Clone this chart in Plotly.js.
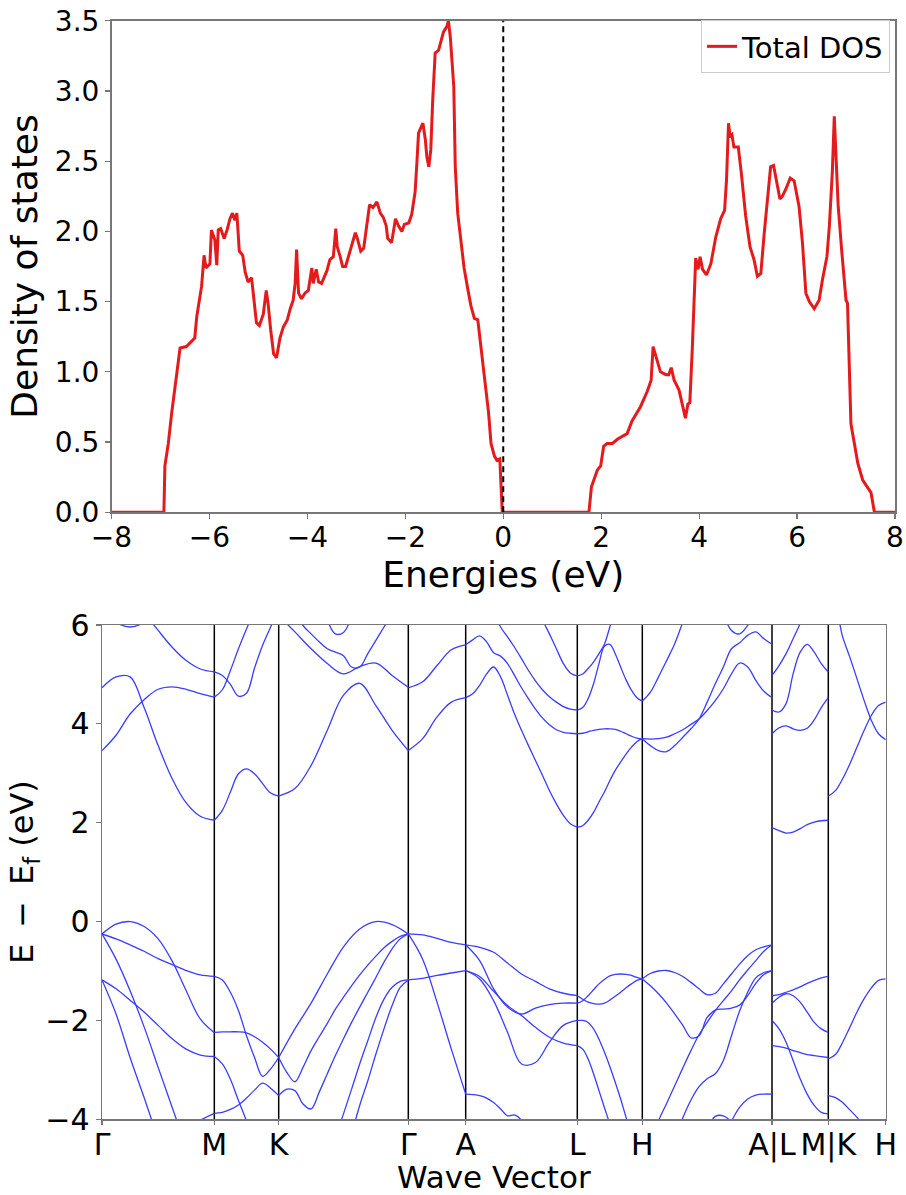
<!DOCTYPE html>
<html>
<head>
<meta charset="utf-8">
<script src="https://cdn.plot.ly/plotly-3.0.1.min.js"></script>
<style>
  html, body { margin: 0; padding: 0; background: #ffffff; }
  #chart { width: 906px; height: 1195px; }
</style>
</head>
<body>
<div id="chart"></div>
<script>
// ---------------- DOS (top panel) ----------------
const dosEnergy = [
  -8, -6.93, -6.91, -6.84, -6.77, -6.67, -6.60, -6.47, -6.36, -6.30,
  -6.26, -6.16, -6.11, -6.07, -5.99, -5.96, -5.89, -5.85, -5.82, -5.77,
  -5.70, -5.64, -5.58, -5.53, -5.48, -5.44, -5.39, -5.32, -5.27, -5.21,
  -5.14, -5.09, -5.04, -4.98, -4.90, -4.84, -4.80, -4.75, -4.69, -4.63,
  -4.56, -4.49, -4.41, -4.35, -4.29, -4.25, -4.22, -4.18, -4.12, -4.05,
  -3.98, -3.91, -3.88, -3.82, -3.77, -3.71, -3.60, -3.54, -3.47, -3.42,
  -3.39, -3.33, -3.28, -3.22, -3.16, -3.09, -3.02, -2.98, -2.91, -2.85,
  -2.79, -2.73, -2.66, -2.58, -2.51, -2.45, -2.39, -2.36, -2.28, -2.24,
  -2.20, -2.14, -2.07, -2.02, -1.93, -1.87, -1.80, -1.76, -1.73, -1.68,
  -1.64, -1.59, -1.56, -1.52, -1.48, -1.44, -1.39, -1.32, -1.27, -1.22,
  -1.15, -1.12, -1.08, -1.01, -0.98, -0.93, -0.86, -0.80, -0.73, -0.66,
  -0.59, -0.52, -0.45, -0.37, -0.30, -0.25, -0.18, -0.13, -0.07, -0.02,
  1.75, 1.80, 1.85, 1.92, 1.99, 2.05, 2.12, 2.23, 2.33, 2.43,
  2.53, 2.63, 2.80, 2.94, 3.02, 3.06, 3.13, 3.21, 3.32, 3.38,
  3.43, 3.49, 3.59, 3.66, 3.72, 3.77, 3.81, 3.86, 3.90, 3.93,
  3.98, 4.02, 4.07, 4.15, 4.24, 4.34, 4.44, 4.52, 4.56, 4.60,
  4.63, 4.67, 4.71, 4.80, 4.86, 4.95, 5.04, 5.12, 5.19, 5.26,
  5.33, 5.39, 5.46, 5.52, 5.59, 5.65, 5.70, 5.77, 5.86, 5.94,
  6.04, 6.11, 6.18, 6.25, 6.35, 6.45, 6.52, 6.61, 6.66, 6.72,
  6.76, 6.79, 6.84, 6.91, 6.96, 7.00, 7.03, 7.07, 7.10, 7.17,
  7.24, 7.34, 7.44, 7.51, 7.58, 8
];
const dosTotal = [
  0, 0, 0.33, 0.49, 0.71, 0.97, 1.17, 1.18, 1.22, 1.24,
  1.39, 1.61, 1.83, 1.74, 1.77, 2.01, 1.94, 1.76, 2.01, 2.02,
  1.95, 2.01, 2.09, 2.13, 2.08, 2.13, 1.86, 1.83, 1.71, 1.64,
  1.67, 1.51, 1.35, 1.33, 1.41, 1.58, 1.48, 1.30, 1.13, 1.10,
  1.24, 1.32, 1.37, 1.45, 1.51, 1.63, 1.87, 1.56, 1.52, 1.56,
  1.58, 1.74, 1.63, 1.73, 1.64, 1.63, 1.72, 1.80, 1.82, 2.02,
  1.89, 1.82, 1.75, 1.75, 1.82, 1.89, 1.99, 1.95, 1.86, 1.88,
  2.04, 2.19, 2.17, 2.21, 2.13, 2.10, 2.04, 1.95, 1.92, 2.01,
  2.09, 2.04, 2.00, 2.05, 2.06, 2.12, 2.28, 2.51, 2.70, 2.74,
  2.77, 2.65, 2.53, 2.46, 2.58, 2.94, 3.27, 3.29, 3.35, 3.42,
  3.46, 3.50, 3.38, 3.03, 2.46, 2.13, 1.92, 1.74, 1.60, 1.47,
  1.38, 1.37, 1.16, 0.92, 0.71, 0.49, 0.40, 0.37, 0.38, 0,
  0, 0.18, 0.23, 0.30, 0.33, 0.47, 0.49, 0.49, 0.52, 0.54,
  0.56, 0.65, 0.75, 0.86, 0.94, 1.18, 1.09, 1.00, 0.98, 0.98,
  1.03, 0.94, 0.87, 0.75, 0.67, 0.77, 0.78, 1.16, 1.51, 1.81,
  1.73, 1.82, 1.73, 1.69, 1.77, 1.96, 2.09, 2.15, 2.37, 2.77,
  2.68, 2.69, 2.60, 2.60, 2.42, 2.11, 1.89, 1.80, 1.68, 1.70,
  1.99, 2.23, 2.46, 2.47, 2.34, 2.23, 2.25, 2.30, 2.38, 2.36,
  2.18, 1.92, 1.56, 1.50, 1.45, 1.51, 1.66, 1.82, 2.04, 2.42,
  2.82, 2.53, 2.18, 1.87, 1.63, 1.51, 1.49, 0.92, 0.63, 0.49,
  0.35, 0.23, 0.18, 0.14, 0, 0
];
const fermiLevel = 0;

// ---------------- Band structure (bottom panel) ----------------
const kTicks  = [0, 0.5789, 0.9108, 1.5789, 1.8747, 2.4500, 2.7851, 3.4536, 3.7438, 4.0397];
const kLabels = ['Γ', 'M', 'K', 'Γ', 'A', 'L', 'H', 'A|L', 'M|K', 'H'];

// Each band piece: energies (eV) sampled evenly along one path segment.
const bandsGM = [
  [3.46, 3.77, 4.20, 4.49, 4.70, 4.75, 4.70, 4.61, 4.54],
  [4.73, 4.95, 4.95, 4.33, 3.56, 2.89, 2.40, 2.13, 2.05],
  [7.1, 6.9, 6.6, 6.25, 5.89, 5.55, 5.28, 5.11, 5.05],
  [6.3, 6.05, 5.96, 6.05, 6.3, null, null, null, null],
  [-0.25, -0.05, 0.0, -0.10, -0.35, -0.80, -1.40, -1.97, -2.25],
  [-0.25, -0.35, -0.47, -0.60, -0.75, -0.87, -0.99, -1.08, -1.11],
  [-0.25, -0.76, -1.40, -2.13, -2.95, -3.76, -4.57, null, null],
  [-1.18, -1.36, -1.59, -1.83, -2.10, -2.37, -2.58, -2.70, -2.73],
  [-1.18, -1.87, -2.75, -3.56, -4.4, null, null, null, null],
  [null, null, null, null, null, null, -4.2, -4.02, -3.88]
];
const bandsMK = [
  [5.05, 4.98, 4.80, 4.56, 4.62, 5.13, 5.59, 5.96, 6.35],
  [4.54, 4.69, 5.08, 5.52, 5.92, 6.3, 6.7, null, null],
  [2.05, 2.25, 2.62, 2.99, 3.09, 2.99, 2.79, 2.60, 2.54],
  [-2.24, -2.23, -2.23, -2.23, -2.25, -2.33, -2.44, -2.58, -2.75],
  [-1.11, -1.18, -1.43, -1.80, -2.31, -2.75, -3.13, -2.98, -2.75],
  [-2.73, -2.88, -3.19, -3.62, -4.03, -4.5, null, null, null],
  [-3.88, -3.86, -3.80, -3.71, -3.57, -3.41, -3.27, -3.37, -3.52]
];
const bandsKG = [
  [2.54, 2.69, 3.16, 3.87, 4.58, 4.82, 4.37, 3.87, 3.46],
  [6.19, 5.86, 5.52, 5.22, 5.01, 5.16, 5.23, 4.98, 4.74],
  [6.6, 6.4, 6.26, 5.99, 5.82, 5.66, 5.52, 5.45, 5.38, 5.15, 5.15, 5.42, 5.69, 5.96, 6.23, 6.5, null],
  [null, null, null, null, null, 6.5, 6.09, 5.82, 5.85, 6.16, 6.6, null, null, null, null, null, null],
  [-2.75, -2.17, -1.65, -1.06, -0.51, -0.15, 0.0, -0.06, -0.25],
  [-2.75, -3.05, -3.24, -2.95, -2.61, -2.33, -2.06, -1.77, -1.53, -1.30, -1.08, -0.88, -0.70, -0.53, -0.40, -0.30, -0.25],
  [-3.52, -3.39, -3.42, -3.69, -3.79, -3.45, -3.08, -2.71, -2.37, -2.04, -1.73, -1.43, -1.13, -0.82, -0.55, -0.35, -0.25],
  [null, null, null, null, null, null, null, -4.37, -3.89, -3.39, -2.88, -2.41, -1.94, -1.57, -1.33, -1.21, -1.18],
  [null, null, null, null, null, null, null, null, null, -4.3, -3.72, -3.22, -2.68, -2.17, -1.70, -1.33, -1.18]
];
const bandsGA = [
  [4.73, 4.85, 5.18, 5.50, 5.60],
  [3.46, 3.70, 4.14, 4.44, 4.53],
  [-0.25, -0.27, -0.34, -0.42, -0.47],
  [-0.25, -0.76, -1.63, -2.58, -3.49],
  [-1.18, -1.15, -1.09, -1.04, -0.99]
];
const bandsAL = [
  [5.60, 5.70, 5.78, 5.66, 5.44, 5.37, 5.22, 4.98, 4.73, 4.51, 4.30, 4.12, 3.98, 3.88, 3.83, 3.81, 3.80],
  [4.53, 4.61, 4.78, 5.01, 5.15, 4.95, 4.58, 4.20, 3.87, 3.56, 3.26, 2.96, 2.65, 2.38, 2.15, 1.98, 1.91],
  [null, null, null, 6.7, 6.3, 5.96, 5.76, 5.55, 5.32, 5.08, 4.87, 4.69, 4.55, 4.44, 4.35, 4.30, 4.28],
  [null, null, null, null, null, null, null, null, null, null, 6.43, 6.11, 5.82, 5.52, 5.22, 5.03, 4.97],
  [-0.47, -0.52, -0.62, -0.84, -1.06, -1.21, -1.36, -1.45, -1.50],
  [-0.47, -0.79, -1.36, -1.73, -1.87, -1.75, -1.68, -1.65, -1.65],
  [-0.99, -1.11, -1.41, -1.70, -1.90, -2.14, -2.34, -2.46, -2.51],
  [-0.99, -1.16, -1.60, -2.24, -2.88, -2.85, -2.44, -2.10, -2.00],
  [-3.49, -3.50, -3.52, -3.57, -3.66, -3.79, -3.93, -3.91, -4.02, -4.3, null, null, null, null, null, null, null]
];
const bandsLH = [
  [4.28, 4.33, 4.51, 4.81, 5.22, 5.57, 5.61, 5.42, 5.15, 4.89, 4.68, 4.53, 4.46],
  [4.97, 5.01, 5.12, 5.25, 5.42, 5.61, 5.96, 6.36, null, null, null, null, null],
  [3.80, 3.81, 3.84, 3.87, 3.89, 3.90, 3.90, 3.89, 3.85, 3.80, 3.75, 3.71, 3.69],
  [1.91, 1.94, 2.05, 2.21, 2.42, 2.62, 2.85, 3.06, 3.23, 3.39, 3.53, 3.64, 3.70],
  [-1.50, -1.57, -1.63, -1.66, -1.67, -1.65, -1.59, -1.51, -1.43, -1.34, -1.26, -1.19, -1.16],
  [-1.65, -1.60, -1.50, -1.38, -1.26, -1.17, -1.10, -1.07, -1.06, -1.07, -1.09, -1.13, -1.16],
  [-2.00, -2.00, -2.04, -2.17, -2.38, -2.64, -2.93, -3.25, -3.59, -3.96, -4.3, null, null],
  [-2.51, -2.58, -2.78, -3.08, -3.42, -3.76, -4.10, -4.5, null, null, null, null, null]
];
const bandsHA = [
  [4.46, 4.64, 4.95, 5.28, 5.62, 6.06, 6.5, null, null, null, null, null, null, null, null, null, null],
  [3.70, 3.69, 3.70, 3.73, 3.80, 3.88, 3.99, 4.10, 4.27, 4.47, 4.71, 5.01, 5.23, 5.15, 4.88, 4.66, 4.53],
  [3.70, 3.56, 3.46, 3.44, 3.56, 3.73, 3.90, 4.10, 4.44, 4.81, 5.15, 5.52, 5.64, 5.79, 5.86, 5.72, 5.61],
  [null, null, null, null, null, null, null, null, null, null, 6.23, 5.89, 5.82, 5.99, 6.3, null, null],
  [-1.16, -1.05, -1.00, -0.99, -1.03, -1.11, -1.23, -1.36, -1.48, -1.45, -1.26, -1.06, -0.86, -0.69, -0.57, -0.51, -0.47],
  [-1.16, -1.30, -1.46, -1.65, -1.87, -2.10, -2.35, -2.31, -1.94, -1.79, -1.77, -1.75, -1.69, -1.50, -1.25, -1.07, -0.99],
  [null, -4.5, -4.03, -3.68, -3.32, -2.96, -2.61, -2.29, -2.04, -1.80, -1.60, -1.40, -1.18, -0.98, -0.79, -0.60, -0.47],
  [null, null, null, null, -4.4, -3.97, -3.61, -3.34, -3.18, -3.08, -2.81, -2.31, -1.81, -1.43, -1.14, -1.03, -0.99],
  [null, null, null, null, null, null, null, null, null, null, -4.3, -4.03, -3.76, -3.59, -3.51, -3.49, -3.49],
  [null, null, null, null, null, null, null, null, -4.2, -3.94, -3.93, -4.05, -4.3, null, null, null, null]
];
const bandsLM = [
  [4.98, 5.18, 5.42, 5.72, 6.03, 6.4, null, null, null],
  [4.28, 4.24, 4.41, 5.01, 5.45, 5.61, 5.45, 5.22, 5.05],
  [3.80, 3.92, 3.96, 3.90, 3.87, 3.91, 4.08, 4.33, 4.53],
  [1.90, 1.84, 1.79, 1.81, 1.88, 1.96, 2.01, 2.04, 2.05],
  [-1.50, -1.48, -1.43, -1.38, -1.32, -1.25, -1.19, -1.14, -1.11],
  [-1.65, -1.53, -1.46, -1.50, -1.63, -1.83, -2.04, -2.17, -2.24],
  [-2.00, -2.17, -2.44, -2.81, -3.18, -3.49, -3.72, -3.86, -3.89],
  [-2.51, -2.53, -2.56, -2.61, -2.65, -2.69, -2.71, -2.73, -2.75]
];
const bandsKH = [
  [6.45, 6.33, 5.76, 5.35, 4.91, 4.47, 4.07, 3.80, 3.68],
  [2.54, 2.65, 2.89, 3.19, 3.53, 3.87, 4.17, 4.37, 4.44],
  [-2.78, -2.69, -2.44, -2.14, -1.83, -1.56, -1.34, -1.19, -1.16],
  [-3.52, -3.56, -3.66, -3.81, -3.96, -4.13, null, null, null]
];

// segment -> [start tick index, end tick index, band pieces]
const pathSegments = [
  [0, 1, bandsGM], [1, 2, bandsMK], [2, 3, bandsKG], [3, 4, bandsGA], [4, 5, bandsAL],
  [5, 6, bandsLH], [6, 7, bandsHA], [7, 8, bandsLM], [8, 9, bandsKH]
];

// ---------------- build traces ----------------
const W = 906, H = 1195;
const traces = [];
traces.push({
  x: dosEnergy, y: dosTotal, xaxis: 'x', yaxis: 'y',
  type: 'scatter', mode: 'lines', name: 'Total DOS',
  line: { color: '#e41a1c', width: 3 }, hoverinfo: 'skip'
});
pathSegments.forEach(([a, b, pieces]) => {
  const k0 = kTicks[a], k1 = kTicks[b];
  pieces.forEach(e => {
    const n = e.length;
    const ks = e.map((_, i) => k0 + (k1 - k0) * i / (n - 1));
    traces.push({
      x: ks, y: e, xaxis: 'x2', yaxis: 'y2', type: 'scatter', mode: 'lines',
      line: { color: '#3c3cff', width: 1.3, shape: 'spline', smoothing: 1 },
      connectgaps: false, showlegend: false, hoverinfo: 'skip'
    });
  });
});

const shapes = [{
  type: 'line', xref: 'x', yref: 'y', x0: fermiLevel, x1: fermiLevel, y0: 0, y1: 3.5,
  line: { color: 'black', width: 2, dash: '6px,4px' }
}];
kTicks.slice(1, -1).forEach(k => shapes.push({
  type: 'line', xref: 'x2', yref: 'y2', x0: k, x1: k, y0: -4, y1: 6, layer: 'below',
  line: { color: 'black', width: 1.5 }
}));

const frame = '#777777';
const axisCommon = {
  showline: true, mirror: true, linecolor: frame, linewidth: 1.5,
  ticks: 'outside', ticklen: 5, tickwidth: 1.2, tickcolor: frame,
  showgrid: false, zeroline: false, tickfont: { size: 28, color: 'black' }
};

const layout = {
  width: W, height: H,
  margin: { l: 0, r: 0, t: 0, b: 0 },
  paper_bgcolor: 'white', plot_bgcolor: 'white',
  font: { family: 'DejaVu Sans, sans-serif', color: 'black', size: 26 },
  showlegend: true,
  legend: {
    x: 890 / W, xanchor: 'right', y: 1 - 20 / H, yanchor: 'top',
    bordercolor: '#cccccc', borderwidth: 1, bgcolor: 'white',
    font: { size: 29 }, itemwidth: 30
  },
  xaxis: Object.assign({}, axisCommon, {
    domain: [111.5 / W, 895 / W], anchor: 'y', range: [-8, 8], tick0: -8, dtick: 2,
    ticklabelstandoff: -5,
    title: { text: 'Energies (eV)', font: { size: 36 }, standoff: 6 }
  }),
  yaxis: Object.assign({}, axisCommon, {
    domain: [1 - 512.3 / H, 1 - 20.7 / H], anchor: 'x', range: [0, 3.5], dtick: 0.5, tickformat: '.1f',
    title: { text: 'Density of states', font: { size: 36 }, standoff: 6 }
  }),
  xaxis2: Object.assign({}, axisCommon, {
    domain: [102 / W, 885.7 / W], anchor: 'y2', range: [0, kTicks[kTicks.length - 1]],
    tickmode: 'array', tickvals: kTicks, ticktext: kLabels, ticklen: 4,
    ticklabelstandoff: -6, tickfont: { size: 30, color: 'black' },
    title: { text: 'Wave Vector', font: { size: 31 }, standoff: 6 }
  }),
  yaxis2: Object.assign({}, axisCommon, {
    domain: [1 - 1119.3 / H, 1 - 625 / H], anchor: 'x2', range: [-4, 6], dtick: 2,
    tickfont: { size: 30, color: 'black' },
    title: { text: 'E\u2002\u2212\u2002E<sub>f</sub> (eV)', font: { size: 32 }, standoff: 2 }
  }),
  shapes: shapes
};

Plotly.newPlot('chart', traces, layout, { staticPlot: true, displayModeBar: false });
</script>
</body>
</html>
